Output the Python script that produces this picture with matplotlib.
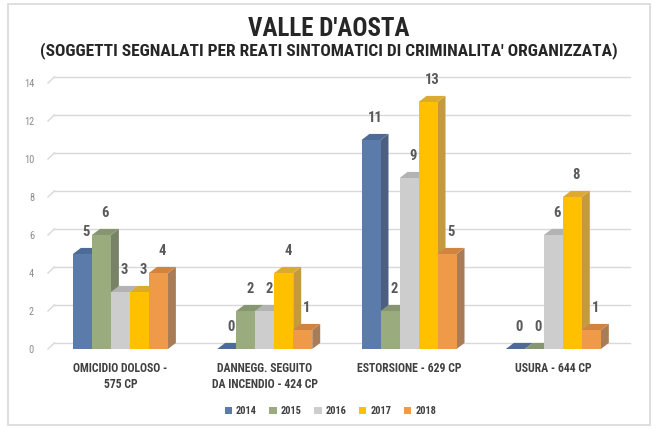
import matplotlib.pyplot as plt
from matplotlib.patches import Polygon, Rectangle, Patch

# data
categories = ['OMICIDIO DOLOSO -\n575 CP', 'DANNEGG. SEGUITO\nDA INCENDIO - 424 CP',
              'ESTORSIONE - 629 CP', 'USURA - 644 CP']
years = ['2014', '2015', '2016', '2017', '2018']
v2014 = [5, 0, 11, 0]
v2015 = [6, 2, 2, 0]
v2016 = [3, 2, 9, 6]
v2017 = [3, 4, 13, 8]
v2018 = [4, 1, 5, 1]
series = [v2014, v2015, v2016, v2017, v2018]

front_cols = ['#5b7baa', '#9aab7e', '#cdcdcd', '#ffc000', '#ee9a48']
top_cols = ['#4d6b96', '#869670', '#b3b3b3', '#dcaa2c', '#d0843f']
side_cols = ['#4c5f80', '#778266', '#a5a5a5', '#c39b3e', '#a87c56']

font = ['Roboto Condensed', 'Roboto', 'DejaVu Sans']
plt.rcParams['font.family'] = font

fig = plt.figure(figsize=(6.57, 4.29), dpi=100)
W, H = 657, 429
# chart border
fig.patches.append(Rectangle((8 / W, 4 / H), 642 / W, 421 / H, transform=fig.transFigure,
                             fill=False, edgecolor='#d9d9d9', lw=1.2))

ax = fig.add_axes([48 / W, 1 - 349 / H, 597 / W, 266 / H])
ax.set_xlim(-0.502, 3.635)
ax.set_ylim(0, 14)
for s in ax.spines.values():
    s.set_visible(False)

bw = 0.1317
dx = 0.055
dy = 0.32

# back-plane grid lines with a small perspective stub at the left
x0 = -0.502
for v in range(0, 15, 2):
    ax.plot([x0, x0 + dx * 0.8], [v, v + dy], color='#d9d9d9', lw=1, clip_on=False, zorder=0)
    ax.plot([x0 + dx * 0.8, 3.53], [v + dy, v + dy], color='#d9d9d9', lw=1, clip_on=False, zorder=0)

z = 1
for c in range(len(categories)):
    left0 = c - 2.5 * bw
    for i, vals in enumerate(series):
        h = vals[c]
        xl = left0 + i * bw
        side = Polygon([(xl + bw, 0), (xl + bw + dx, dy), (xl + bw + dx, h + dy), (xl + bw, h)],
                       closed=True, facecolor=side_cols[i], edgecolor='none', zorder=z)
        top = Polygon([(xl, h), (xl + bw, h), (xl + bw + dx, h + dy), (xl + dx, h + dy)],
                      closed=True, facecolor=top_cols[i], edgecolor='none', zorder=z)
        ax.add_patch(side)
        ax.add_patch(top)
        if h > 0:
            ax.bar(xl, h, width=bw, align='edge', color=front_cols[i], zorder=z + 0.5)
        ax.text(xl + bw / 2 + dx / 2, h + dy + 0.85, str(h), ha='center', va='center',
                fontsize=10.5, color='#595959', fontweight='bold', zorder=50)
        z += 1

ax.set_yticks(range(0, 15, 2))
ax.tick_params(axis='y', length=0, pad=10, labelsize=7.5, labelcolor='#8c8c8c')
ax.set_xticks(range(len(categories)))
ax.set_xticklabels(categories, fontsize=8.5, fontweight='bold', color='#404040', linespacing=1.3)
ax.tick_params(axis='x', length=0, pad=9)

fig.text(0.5, 1 - 29 / H, "VALLE D'AOSTA", ha='center', va='center', fontsize=18,
         fontweight='bold', color='#262626')
fig.text(0.5, 1 - 51 / H, "(SOGGETTI SEGNALATI PER REATI SINTOMATICI DI CRIMINALITA' ORGANIZZATA)",
         ha='center', va='center', fontsize=12.5, fontweight='bold', color='#262626')

handles = [Patch(facecolor=front_cols[i], label=years[i]) for i in range(5)]
leg = fig.legend(handles=handles, loc='center', bbox_to_anchor=(0.503, 1 - 411 / H), ncol=5,
                 frameon=False, handlelength=0.7, handleheight=0.7, handletextpad=0.4,
                 columnspacing=1.2, prop={'family': font, 'size': 7.5, 'weight': 'bold'})
for t in leg.get_texts():
    t.set_color('#404040')

fig.savefig('out.png', dpi=100)
